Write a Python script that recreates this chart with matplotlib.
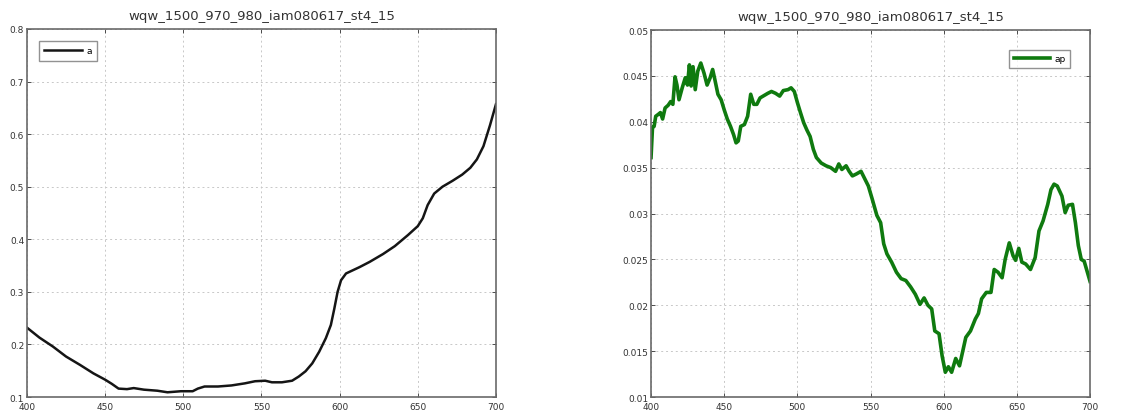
import matplotlib
matplotlib.use("Agg")
import matplotlib.pyplot as plt

title = "wqw_1500_970_980_iam080617_st4_15"

# left panel: a
wl_a = [400, 408, 416.6, 425, 434, 442.5, 450, 454.3, 458.6, 464, 468.3, 474.8,
        483.4, 489.9, 498.5, 506, 509.3, 513.6, 522.2, 530.8, 539.4, 545.9,
        552.4, 556.7, 563.1, 569.6, 573.9, 578.2, 582.5, 586.9, 591.2, 594.4,
        596.6, 598.7, 600.9, 604.1, 608.4, 612.7, 619.2, 627.8, 635.3, 643.7,
        650, 653.2, 656.3, 660.5, 665.8, 672.1, 678.4, 683.6, 687.8, 692,
        696.2, 700]
a = [0.232, 0.213, 0.196, 0.177, 0.161, 0.145, 0.133, 0.125, 0.116, 0.115,
     0.117, 0.114, 0.112, 0.109, 0.111, 0.111, 0.116, 0.12, 0.12, 0.122,
     0.126, 0.13, 0.131, 0.128, 0.128, 0.131, 0.139, 0.149, 0.164, 0.186,
     0.212, 0.237, 0.268, 0.3, 0.322, 0.335, 0.341, 0.347, 0.357, 0.372,
     0.387, 0.408, 0.425, 0.44, 0.465, 0.487, 0.5, 0.511, 0.523, 0.536,
     0.552, 0.577, 0.617, 0.657]

# right panel: ap
wl_ap = [400, 401, 402.1, 403.2, 404.9, 406.4, 407.9, 409.6, 411.7, 413.4,
         414.9, 416.4, 417.7, 419.1, 421.3, 423.4, 424.9, 426.2, 427.4, 428.7,
         430.2, 431.9, 434, 436.2, 438.3, 440.4, 442.1, 443.6, 445.7, 447.9,
         450, 452.1, 454.3, 456.4, 458.1, 459.6, 461.3, 463.8, 466, 468.1,
         470.2, 472.3, 474.5, 476.6, 479.8, 482.3, 485.1, 487.9, 490.4, 493.6,
         495.7, 497.9, 500, 502.1, 504.3, 506.5, 508.7, 510.9, 513, 516.3,
         519.6, 522.8, 526.1, 528.3, 530.4, 533.3, 535.4, 537.6, 540.2, 543.5,
         545.7, 548.5, 551.1, 554.3, 556.9, 559, 561.2, 564.4, 567.7, 570.9,
         574.1, 577.4, 580.6, 583.8, 586.6, 589.2, 591.8, 593.9, 596.8, 598.9,
         601.1, 603.2, 605.4, 608.2, 610.8, 612.9, 615.1, 618.3, 621.6, 623.7,
         625.9, 629.1, 632.3, 634.5, 637.1, 639.9, 642, 644.8, 647.4, 649.1,
         651.3, 653.4, 656, 659.3, 662.5, 665.1, 667.9, 671.1, 673.3, 675.4,
         677.6, 680.8, 683, 685.1, 688, 690, 692, 694, 696, 698, 700]
ap = [0.0361, 0.0394, 0.0395, 0.0406, 0.0408, 0.041, 0.0403, 0.0415, 0.0418,
      0.0422, 0.0419, 0.0449, 0.044, 0.0424, 0.0437, 0.0448, 0.044, 0.0462,
      0.0439, 0.046, 0.0435, 0.0455, 0.0464, 0.0453, 0.044, 0.0448, 0.0457,
      0.0446, 0.043, 0.0424, 0.0413, 0.0403, 0.0395, 0.0386, 0.0377, 0.0379,
      0.0395, 0.0397, 0.0406, 0.043, 0.0419, 0.0419, 0.0426, 0.0428, 0.0431,
      0.0433, 0.0431, 0.0428, 0.0434, 0.0435, 0.0437, 0.0433, 0.0421, 0.041,
      0.0399, 0.0391, 0.0384, 0.037, 0.0361, 0.0355, 0.0352, 0.035, 0.0346,
      0.0354, 0.0348, 0.0352, 0.0346, 0.0341, 0.0343, 0.0346, 0.0339, 0.033,
      0.0316, 0.0298, 0.029, 0.0267, 0.0256, 0.0247, 0.0236, 0.0229, 0.0227,
      0.022, 0.0212, 0.0201, 0.0208, 0.02, 0.0196, 0.0172, 0.0169, 0.0145,
      0.0127, 0.0133, 0.0127, 0.0142, 0.0134, 0.0149, 0.0165, 0.0172, 0.0185,
      0.0191, 0.0207, 0.0214, 0.0214, 0.0239, 0.0236, 0.023, 0.025, 0.0268,
      0.0254, 0.0249, 0.0262, 0.0247, 0.0245, 0.0239, 0.0252, 0.0281, 0.0292,
      0.031, 0.0326, 0.0332, 0.033, 0.0319, 0.0301, 0.0309, 0.031, 0.029,
      0.0265, 0.025, 0.0248, 0.0237, 0.0226]

xticks = [400, 450, 500, 550, 600, 650, 700]
yticks_a = [0.1, 0.2, 0.3, 0.4, 0.5, 0.6, 0.7, 0.8]
yticks_ap = [0.01, 0.015, 0.02, 0.025, 0.03, 0.035, 0.04, 0.045, 0.05]

fig = plt.figure(figsize=(11.37, 4.14), dpi=100)
ax1 = fig.add_axes([0.0237, 0.0386, 0.4125, 0.889])
ax2 = fig.add_axes([0.5726, 0.0386, 0.3861, 0.8865])

def style(ax, yt):
    ax.set_xlim(400, 700)
    ax.set_xticks(xticks)
    ax.set_yticks(yt)
    ax.set_yticklabels(["%g" % v for v in yt])
    ax.grid(True, linestyle=(0, (2, 3)), color="#c8c8c8", linewidth=0.7)
    ax.tick_params(direction="in", length=3, labelsize=6.5, colors="#333333",
                   top=True, right=True, width=0.6)
    ax.tick_params(axis="y", pad=2)
    ax.tick_params(axis="x", pad=3.5)
    for s in ax.spines.values():
        s.set_color("#6a6a6a")
        s.set_linewidth(1.2)
    ax.set_title(title, fontsize=9.5, color="#333333", pad=7)

ax1.plot(wl_a, a, color="#151515", linewidth=1.8, label="a")
ax1.set_ylim(0.1, 0.8)
style(ax1, yticks_a)
ax1.legend(loc="upper left", fontsize=6.5, handlelength=4.2, fancybox=False,
           edgecolor="#777777", borderaxespad=1.3, handletextpad=0.5,
           borderpad=0.6)

ax2.plot(wl_ap, ap, color="#0f7a0f", linewidth=2.6, label="ap")
ax2.set_ylim(0.01, 0.05)
style(ax2, yticks_ap)
ax2.legend(loc="upper right", fontsize=6.5, handlelength=4.0, fancybox=False,
           edgecolor="#777777", borderaxespad=2.2, handletextpad=0.5,
           borderpad=0.5)

fig.savefig("out.png", dpi=100)
